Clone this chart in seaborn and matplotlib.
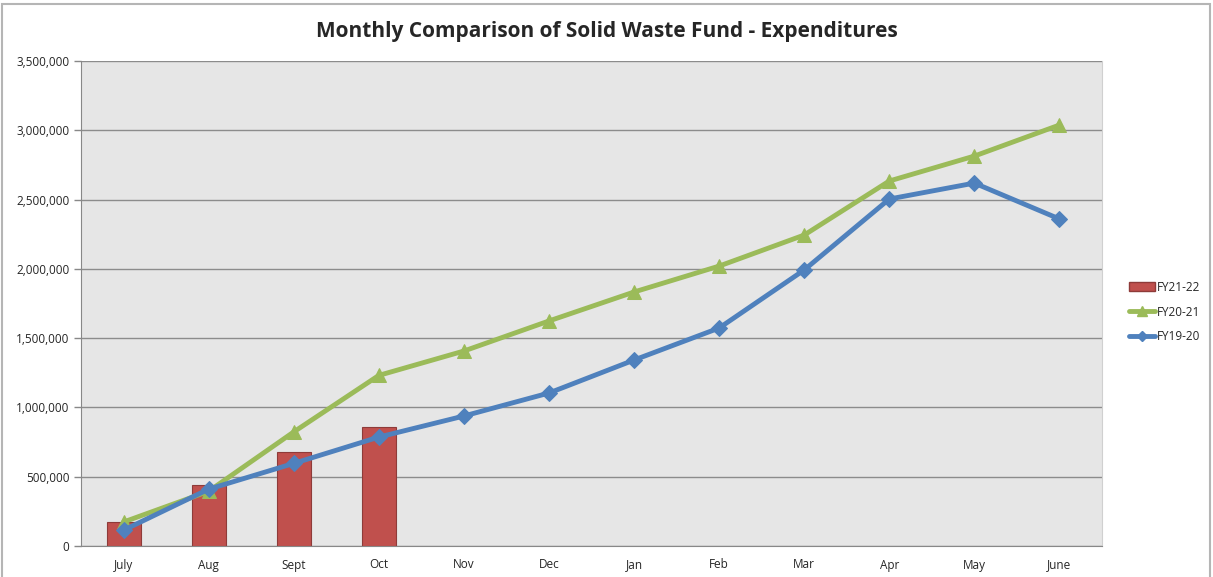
import numpy as np
import pandas as pd
import matplotlib.pyplot as plt
import seaborn as sns
from matplotlib.lines import Line2D
from matplotlib.patches import Patch, Rectangle
from matplotlib.ticker import FuncFormatter, FixedLocator


months = ['July', 'Aug', 'Sept', 'Oct', 'Nov', 'Dec', 'Jan', 'Feb', 'Mar', 'Apr', 'May', 'June']
fy21_22 = [172000, 440000, 680000, 860000]
fy20_21 = [173000, 395000, 823000, 1231000, 1407000, 1624000, 1833000, 2020000,
           2244000, 2634000, 2814000, 3038000]
fy19_20 = [114000, 410000, 596000, 786000, 938000, 1104000, 1342000, 1573000,
           1992000, 2504000, 2619000, 2360000]

red = '#C0504D'
green = '#9BBB59'
blue = '#4F81BD'

sns.set_style("white")
plt.rcParams['font.family'] = ['Open Sans', 'DejaVu Sans']

bars = pd.DataFrame({'month': months[:len(fy21_22)], 'value': fy21_22})
lines = pd.DataFrame({'month': months, 'FY20-21': fy20_21, 'FY19-20': fy19_20})

fig = plt.figure(figsize=(12.13, 5.77), dpi=100)
ax = fig.add_axes([81 / 1213, 1 - 546 / 577, (1102 - 81) / 1213, (546 - 61) / 577])
ax.set_facecolor('#E6E6E6')

sns.barplot(data=bars, x='month', y='value', order=months, color=red,
            saturation=1, width=0.4, edgecolor='#8E3B39', linewidth=0.8, ax=ax)
x = np.arange(len(months))
sns.lineplot(x=x, y=lines['FY20-21'], color=green, lw=3.5, marker='^',
             markersize=10, markeredgecolor=green, ax=ax)
sns.lineplot(x=x, y=lines['FY19-20'], color=blue, lw=3.5, marker='D',
             markersize=8, markeredgecolor=blue, ax=ax)

ax.set_xlim(-0.5, len(months) - 0.5)
ax.set_ylim(0, 3500000)
ax.set_yticks(np.arange(0, 3500001, 500000))
ax.yaxis.set_major_formatter(FuncFormatter(lambda v, p: f'{int(v):,}'))
ax.grid(axis='y', color='#8C8C8C', lw=1)
ax.set_axisbelow(True)
ax.set_xticks(x)
ax.set_xticklabels(months)
ax.xaxis.set_minor_locator(FixedLocator(np.arange(-0.5, len(months), 1)))
ax.tick_params(axis='x', which='major', length=0, pad=9, labelsize=8.5)
ax.tick_params(axis='x', which='minor', length=5, color='#888888', width=1)
ax.tick_params(axis='y', length=5, color='#888888', width=1, labelsize=8.5, left=True)
ax.set_xlabel('')
ax.set_ylabel('')
ax.spines['top'].set_visible(False)
ax.spines['right'].set_color('#D0D0D0')
for s in ['left', 'bottom']:
    ax.spines[s].set_color('#888888')

fig.suptitle('Monthly Comparison of Solid Waste Fund - Expenditures',
             fontsize=15, fontweight='bold', y=1 - 31 / 577, va='center')

handles = [
    Patch(facecolor=red, edgecolor='#8E3B39'),
    Line2D([], [], color=green, lw=3.5, marker='^', markersize=7),
    Line2D([], [], color=blue, lw=3.5, marker='D', markersize=5),
]
fig.legend(handles, ['FY21-22', 'FY20-21', 'FY19-20'], loc='center left',
           bbox_to_anchor=(1118 / 1213, 1 - 312 / 577), frameon=False,
           fontsize=8.5, handlelength=2.2, handletextpad=0.2, labelspacing=1.0)

# chart frame: visible on left, top and right only (bottom cut off)
fig.add_artist(Rectangle((2 / 1213, -0.02), (1210 - 2) / 1213, 1.02 - 4 / 577,
                         transform=fig.transFigure, fill=False,
                         edgecolor='#B5B5B5', lw=1.5))

fig.savefig('out.png', dpi=100)
